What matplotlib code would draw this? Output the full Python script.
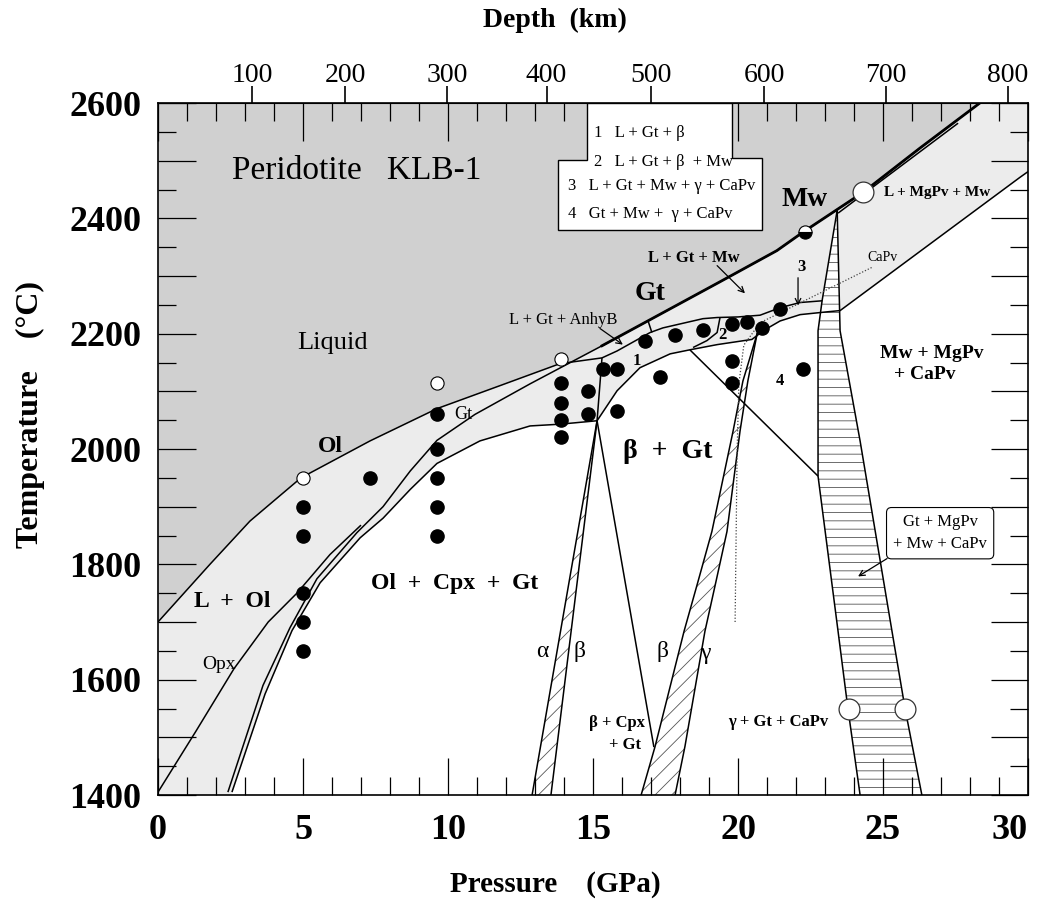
import numpy as np
import matplotlib
matplotlib.use("Agg")
import matplotlib.pyplot as plt
from matplotlib.ticker import MultipleLocator, FuncFormatter

plt.rcParams['font.family'] = ['Liberation Serif', 'DejaVu Serif']
plt.rcParams['hatch.linewidth'] = 0.6

# ---- phase boundaries (P in GPa, T in degC) ----
liq_P = [0, 1.79, 3.17, 4.93, 7.31, 9.62, 11.8, 13.86, 15.31]
liq_T = [1700, 1800, 1875, 1950, 2014, 2070, 2110, 2148, 2158]

# garnet-in curve continuing as the Gt / Mw liquidus
gt_P = [2.41, 3.62, 4.55, 5.48, 6.86, 7.76, 8.7, 9.62, 10.93, 12.83, 15.31, 19.38, 21.34, 22.24, 24.31, 26.28, 28.34]
gt_T = [1405, 1590, 1690, 1775, 1855, 1900, 1962, 2015, 2060, 2113, 2179, 2290, 2344, 2376, 2445, 2522, 2600]

opx_P = [0, 1.3, 2.62, 3.8, 4.79, 5.93, 7.0]
opx_T = [1405, 1510, 1619, 1700, 1750, 1817, 1868]

sol_P = [2.55, 3.69, 4.62, 5.59, 6.97, 7.76, 8.7, 9.62, 11.1, 12.83, 13.86, 15.14]
sol_T = [1405, 1575, 1685, 1768, 1846, 1880, 1930, 1975, 2014, 2040, 2043, 2049]

# high-pressure solidus -> CaPv line
solhi_P = [15.14, 15.83, 16.62, 17.66, 18.34, 19.28, 20.48, 20.9, 21.45, 22.14, 23.1, 23.52, 29.72, 30]
solhi_T = [2049, 2101, 2141, 2165, 2172, 2181, 2190, 2206, 2222, 2233, 2238, 2240, 2471, 2481]

top_P = [15.31, 15.83, 16.97, 17.41, 18.79, 19.28, 20.0, 20.76, 21.45, 22.14, 22.9]
top_T = [2158, 2170, 2202, 2210, 2226, 2228, 2229, 2232, 2245, 2254, 2257]

div12_P = [19.38, 19.28, 18.93, 18.45]
div12_T = [2228, 2202, 2188, 2176]

anhy_P = [16.9, 17.03]
anhy_T = [2222, 2202]

vert_P = [15.31, 15.14]
vert_T = [2158, 2049]

diag4_P = [18.34, 22.76]
diag4_T = [2172, 1953]

cpx_P = [15.14, 17.1]
cpx_T = [2049, 1483]

mgpv_P = [23.45, 27.59]
mgpv_T = [2409, 2565]

capv_P = [19.9, 19.97, 20.03, 20.2, 20.76, 24.62]
capv_T = [1700, 1997, 2113, 2180, 2219, 2315]

# alpha-beta loop
ab_left_P = [15.14, 12.9]
ab_right_P = [15.14, 13.55]
ab_T = [2049, 1400]

# beta-gamma loop
bg_T = [2200, 2118, 2031, 1857, 1770, 1684, 1484, 1400]
bg_left_P = [20.66, 20.17, 19.83, 19.10, 18.62, 18.14, 17.14, 16.66]
bg_right_P = [20.66, 20.34, 20.07, 19.62, 19.24, 18.86, 18.17, 17.83]

# MgPv-in band
mp_left_P = [23.42, 22.9, 22.76, 22.76, 23.45, 23.79, 24.21]
mp_left_T = [2414, 2257, 2205, 1953, 1684, 1550, 1400]
mp_right_P = [23.42, 23.52, 24.21, 25.31, 25.76, 26.34]
mp_right_T = [2414, 2205, 2014, 1684, 1550, 1400]

# experiments
run_P = [5, 5, 5, 5, 5, 7.31, 9.62, 9.62, 9.62, 9.62, 9.62, 13.9, 13.9, 13.9, 13.9,
         14.83, 14.83, 15.34, 15.83, 15.83, 17.31, 16.8, 17.83, 18.79, 19.79, 20.31,
         20.83, 19.79, 19.79, 22.24, 21.45]
run_T = [1900, 1850, 1750, 1700, 1650, 1950, 2060, 2000, 1950, 1900, 1850, 2115, 2080, 2050, 2020,
         2101, 2061, 2139, 2139, 2066, 2125, 2188, 2197, 2207, 2217, 2221,
         2210, 2153, 2115, 2139, 2243]
open_P = [5, 9.62, 13.9]
open_T = [1950, 2115, 2156]
big_P = [24.31, 23.83, 25.76]
big_T = [2445, 1550, 1550]
half_P = [22.31]
half_T = [2376]

depth_km = [100, 200, 300, 400, 500, 600, 700, 800]
depth_P = [3.24, 6.45, 9.97, 13.4, 17.0, 20.9, 25.1, 29.3]

LIQ = '#d0d0d0'
MELT = '#ececec'

fig = plt.figure(figsize=(10.41, 9.09), dpi=100)
ax = fig.add_axes([158 / 1041, 1 - 795 / 909, 870 / 1041, 692 / 909])
ax.set_xlim(0, 30)
ax.set_ylim(1400, 2600)

# ---- shading ----
Pg = np.linspace(0, 30, 601)
upper = np.maximum(np.interp(Pg, liq_P, liq_T), np.interp(Pg, gt_P, gt_T, right=2700))
ax.fill_between(Pg, upper, 2600, color=LIQ, lw=0, zorder=0)
lower_P = [0] + sol_P + solhi_P[1:]
lower_T = [1400] + sol_T + solhi_T[1:]
lower = np.interp(Pg, lower_P, lower_T)
lower = np.where(Pg < 2.55, 1400, lower)
ax.fill_between(Pg, lower, np.minimum(upper, 2600), color=MELT, lw=0, zorder=0)

# ---- hatched loops ----
def loop(lp, lt, rp, rt, hatch):
    xs = list(lp) + list(rp)[::-1]
    ys = list(lt) + list(rt)[::-1]
    ax.fill(xs, ys, facecolor='white', edgecolor='none', zorder=1)
    ax.fill(xs, ys, facecolor='none', edgecolor='#555555', hatch=hatch, lw=0, zorder=1.5)
    ax.plot(lp, lt, color='k', lw=1.1, zorder=3)
    ax.plot(rp, rt, color='k', lw=1.1, zorder=3)

loop(ab_left_P, ab_T, ab_right_P, ab_T, '//')
loop(bg_left_P, bg_T, bg_right_P, bg_T, '//')
loop(mp_left_P, mp_left_T, mp_right_P, mp_right_T, '--')

# ---- boundary lines ----
lw = 1.1
for xs, ys in [(liq_P, liq_T), (gt_P, gt_T), (opx_P, opx_T), (sol_P, sol_T),
               (solhi_P, solhi_T), (top_P, top_T), (div12_P, div12_T),
               (anhy_P, anhy_T), (vert_P, vert_T), (diag4_P, diag4_T),
               (cpx_P, cpx_T), (mgpv_P, mgpv_T)]:
    ax.plot(xs, ys, color='k', lw=lw, zorder=3, solid_capstyle='butt')
ax.plot(gt_P[10:], gt_T[10:], color='k', lw=2.0, zorder=3)
ax.plot(capv_P, capv_T, color='#444444', lw=0.9, ls=(0, (1, 1.5)), zorder=3)

# ---- runs ----
ax.plot(run_P, run_T, 'o', color='k', ms=9.5, zorder=5)
ax.plot(open_P, open_T, 'o', mfc='white', mec='k', mew=0.8, ms=9.5, zorder=5)
ax.plot(big_P, big_T, 'o', mfc='white', mec='#333333', mew=0.9, ms=15, zorder=5)
ax.plot(half_P, half_T, 'o', mfc='k', mfcalt='white', fillstyle='bottom', mec='k', mew=0.8, ms=9.5, zorder=5)

# ---- legend box ----
box_P = [14.79, 19.79, 19.79, 20.83, 20.83, 13.79, 13.79, 14.79, 14.79]
box_T = [2600, 2600, 2504, 2504, 2379, 2379, 2501, 2501, 2600]
ax.fill(box_P, box_T, facecolor='white', edgecolor='k', lw=1.0, zorder=6)
fs = 12
ax.text(15.03, 2548, '1   L + Gt + β', fontsize=fs, va='center', zorder=7)
ax.text(15.03, 2497, '2   L + Gt + β  + Mw', fontsize=fs, va='center', zorder=7)
ax.text(14.14, 2456, '3   L + Gt + Mw + γ + CaPv', fontsize=fs, va='center', zorder=7)
ax.text(14.14, 2407, '4   Gt + Mw +  γ + CaPv', fontsize=fs, va='center', zorder=7)

# ---- region labels ----
def lab(x, y, s, size, bold=False, **kw):
    ax.text(x, y, s, fontsize=size, fontweight='bold' if bold else 'normal',
            ha='center', va='center', zorder=7, **kw)

lab(6.86, 2483, 'Peridotite   KLB-1', 24)
lab(6.03, 2184, 'Liquid', 19)
lab(5.93, 2005, 'Ol', 17, True)
lab(10.52, 2059, 'Gt', 13)
lab(2.55, 1736, 'L  +  Ol', 17, True)
lab(2.1, 1626, 'Opx', 14)
lab(10.24, 1767, 'Ol  +  Cpx  +  Gt', 17, True)
lab(13.24, 1649, 'α', 17)
lab(14.55, 1649, 'β', 17)
lab(15.83, 1525, 'β + Cpx', 12, True)
lab(16.1, 1487, '+ Gt', 12, True)
lab(17.38, 1649, 'β', 17)
lab(18.86, 1645, 'γ', 17)
lab(21.38, 1527, 'γ + Gt + CaPv', 12, True)
lab(17.59, 1995, 'β  +  Gt', 20, True)
lab(21.45, 2118, '4', 12, True)
lab(26.69, 2165, 'Mw + MgPv', 14, True)
lab(26.45, 2130, '+ CaPv', 14, True)
lab(16.97, 2270, 'Gt', 20, True)
lab(18.48, 2332, 'L + Gt + Mw', 12, True)
lab(13.97, 2223, 'L + Gt + AnhyB', 12)
lab(16.52, 2153, '1', 12, True)
lab(19.45, 2197, '2', 12, True)
lab(22.28, 2433, 'Mw', 20, True)
lab(26.86, 2445, 'L + MgPv + Mw', 11, True)
lab(25.0, 2332, 'CaPv', 10)
lab(22.2, 2315, '3', 12, True)
lab(26.97, 1854, 'Gt + MgPv\n+ Mw + CaPv', 12,
    bbox=dict(boxstyle='round,pad=0.4,rounding_size=0.3', fc='white', ec='k', lw=0.8), linespacing=1.5)

arrow = dict(arrowstyle='->', color='k', lw=0.9, shrinkA=0, shrinkB=0)
ax.annotate('', xy=(20.24, 2270), xytext=(19.28, 2318), arrowprops=arrow, zorder=7)
ax.annotate('', xy=(16.03, 2181), xytext=(15.24, 2209), arrowprops=arrow, zorder=7)
ax.annotate('', xy=(22.07, 2249), xytext=(22.07, 2297), arrowprops=arrow, zorder=7)
ax.annotate('', xy=(24.14, 1779), xytext=(25.14, 1810), arrowprops=arrow, zorder=7)

# ---- axes / ticks ----
ax.xaxis.set_major_locator(MultipleLocator(5))
ax.xaxis.set_minor_locator(MultipleLocator(1))
ax.yaxis.set_major_locator(MultipleLocator(100))
ax.yaxis.set_minor_locator(MultipleLocator(50))
ax.yaxis.set_major_formatter(FuncFormatter(lambda v, p: f'{int(v)}' if int(v) % 200 == 0 else ''))
ax.tick_params(which='major', direction='in', length=27, width=0.9, top=True, right=True,
               labelsize=26, pad=12)
ax.tick_params(which='minor', direction='in', length=13, width=0.9, top=True, right=True)
ax.tick_params(axis='x', which='major', pad=14)
for s in ax.spines.values():
    s.set_linewidth(1.2)
    s.set_zorder(8)

sec = ax.secondary_xaxis('top')
sec.set_xticks(depth_P)
sec.set_xticklabels([str(d) for d in depth_km])
sec.tick_params(direction='out', length=12, width=1.2, labelsize=20, pad=-1)
sec.xaxis.set_minor_locator(matplotlib.ticker.NullLocator())

fig.text(555 / 1041, 1 - 20 / 909, 'Depth  (km)', fontsize=20, fontweight='bold', ha='center', va='center')
fig.text(555 / 1041, 1 - 885 / 909, 'Pressure    (GPa)', fontsize=21, fontweight='bold', ha='center', va='center')
fig.text(30 / 1041, 1 - 415 / 909, 'Temperature    (°C)', fontsize=23, fontweight='bold', rotation=90,
         ha='center', va='center')

fig.canvas.draw()
for t in ax.get_xticklabels() + ax.get_yticklabels():
    t.set_fontweight('bold')
last = [tk for tk in ax.xaxis.get_major_ticks() if abs(tk.get_loc() - 30) < 1e-6]
for tk in last:
    tk.label1.set_horizontalalignment('right')

fig.savefig('out.png', dpi=100)
